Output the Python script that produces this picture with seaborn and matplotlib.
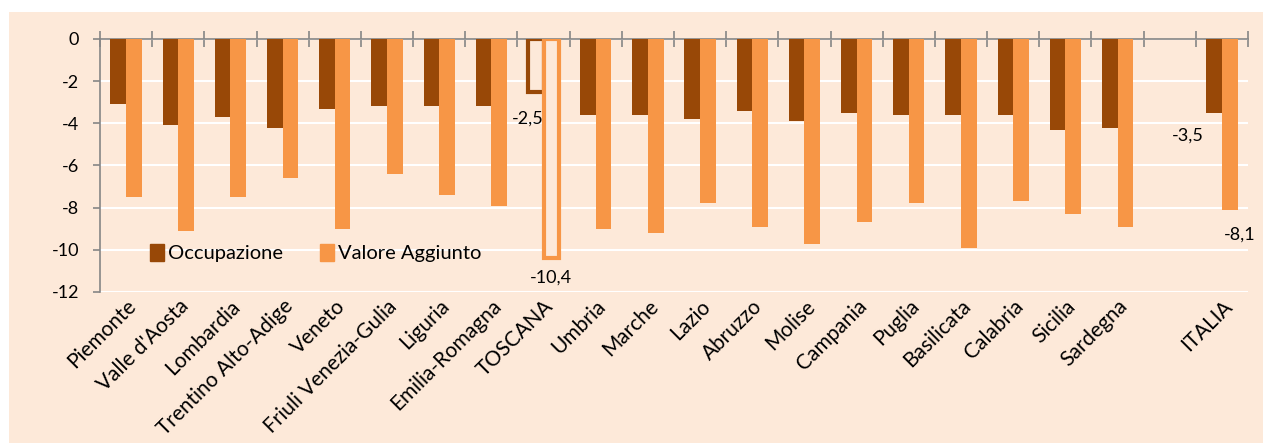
import pandas as pd
import matplotlib.pyplot as plt
import matplotlib.patches as mpatches
import seaborn as sns

regions = ["Piemonte", "Valle d'Aosta", "Lombardia", "Trentino Alto-Adige", "Veneto",
           "Friuli Venezia-Gulia", "Liguria", "Emilia-Romagna", "TOSCANA", "Umbria",
           "Marche", "Lazio", "Abruzzo", "Molise", "Campania", "Puglia", "Basilicata",
           "Calabria", "Sicilia", "Sardegna", "ITALIA"]
occupazione = [-3.1, -4.1, -3.7, -4.2, -3.3, -3.2, -3.2, -3.2, -2.5, -3.6,
               -3.6, -3.8, -3.4, -3.9, -3.5, -3.6, -3.6, -3.6, -4.3, -4.2, -3.5]
valore_aggiunto = [-7.5, -9.1, -7.5, -6.6, -9.0, -6.4, -7.4, -7.9, -10.4, -9.0,
                   -9.2, -7.8, -8.9, -9.7, -8.7, -7.8, -9.9, -7.7, -8.3, -8.9, -8.1]
series = ["Occupazione", "Valore Aggiunto"]
colors = ["#984807", "#F79646"]
bg = "#FDE9D9"

# blank slot between Sardegna and ITALIA
order = regions[:-1] + [" "] + regions[-1:]

df = pd.DataFrame({
    "Regione": regions * 2,
    "Serie": [series[0]] * len(regions) + [series[1]] * len(regions),
    "Valore": occupazione + valore_aggiunto,
})

plt.rcParams["font.family"] = ["Lato", "DejaVu Sans"]
plt.rcParams["axes.unicode_minus"] = False

fig = plt.figure(figsize=(12.63, 4.43), dpi=100, facecolor="white")
fig.patches.append(mpatches.Rectangle((9 / 1263, 0), 1, 1 - 12 / 443,
                                      transform=fig.transFigure, facecolor=bg,
                                      edgecolor="none", zorder=-10))
ax = fig.add_axes([100 / 1263, 1 - 292 / 443, 1148 / 1263, 253 / 443])
ax.set_facecolor(bg)

sns.barplot(data=df, x="Regione", y="Valore", hue="Serie", order=order,
            hue_order=series, palette=colors, width=0.6, saturation=1,
            ax=ax, legend=False, zorder=3)

ax.set_ylim(-12, 0)
ax.set_xlim(-0.5, len(order) - 0.5)
ax.set_yticks(range(-12, 1, 2))
ax.set_yticklabels([str(v) for v in range(-12, 1, 2)], fontsize=13)
ax.yaxis.grid(True, color="white", linewidth=1.5, zorder=0)
ax.set_axisbelow(True)

# category labels at centres, boundary ticks on the zero line
ax.set_xticks(range(len(order)))
ax.set_xticklabels(order, rotation=45, ha="right", rotation_mode="anchor", fontsize=15)
ax.tick_params(axis="x", which="major", length=0, pad=3)
ax.set_xticks([i - 0.5 for i in range(len(order) + 1)], minor=True)
ax.tick_params(axis="x", which="minor", top=True, bottom=False, direction="inout",
               length=12, color="#868686", width=1.2)
ax.tick_params(axis="y", length=5, color="#868686", width=1.2, pad=10)
ax.set_xlabel("")
ax.set_ylabel("")

for side in ["right", "bottom"]:
    ax.spines[side].set_visible(False)
for side in ["left", "top"]:
    ax.spines[side].set_color("#868686")
    ax.spines[side].set_linewidth(1.2)

occ_bars, va_bars = ax.containers[0], ax.containers[1]
tosc = order.index("TOSCANA")
ita = order.index("ITALIA")

def fmt(v):
    return f"{v:.1f}".replace(".", ",")

for bars, col in [(occ_bars, colors[0]), (va_bars, colors[1])]:
    for b in bars:
        cx = b.get_x() + b.get_width() / 2
        h = b.get_height()
        if abs(cx - tosc) < 0.5:
            b.set_facecolor(bg)
            b.set_edgecolor(col)
            b.set_linewidth(3)
            if col == colors[0]:
                ax.text(b.get_x(), h - 1.3, fmt(h), ha="center", va="center", fontsize=13)
            else:
                ax.text(cx, h - 0.9, fmt(h), ha="center", va="center", fontsize=13)
        elif abs(cx - ita) < 0.5:
            if col == colors[0]:
                ax.text(b.get_x() - 0.05, h - 1.1, fmt(h), ha="right", va="center", fontsize=13)
            else:
                ax.text(cx + 0.2, h - 1.2, fmt(h), ha="center", va="center", fontsize=13)

handles = [mpatches.Patch(color=c, label=s) for c, s in zip(colors, series)]
ax.legend(handles=handles, loc="lower left", bbox_to_anchor=(0.028, 0.045), ncol=2,
          frameon=False, fontsize=14.5, handlelength=0.7, handleheight=0.85,
          handletextpad=0.2, columnspacing=1.8)

fig.savefig("out.png", dpi=100, facecolor=fig.get_facecolor())
